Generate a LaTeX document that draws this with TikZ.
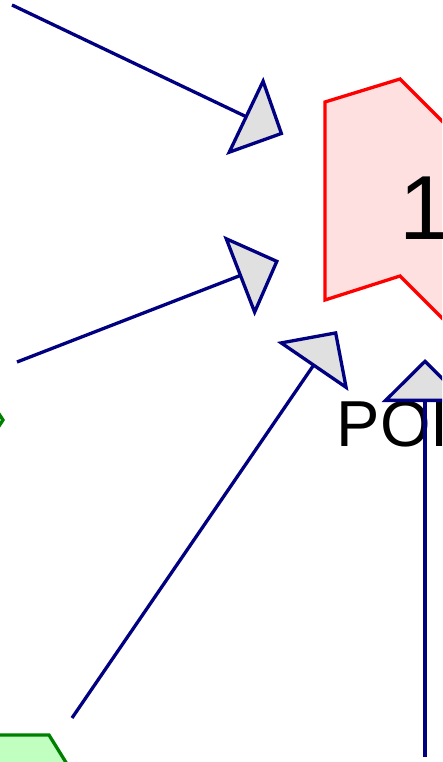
\documentclass[tikz,border=0pt]{standalone}
\usepackage{fontspec}
\setmainfont{Liberation Sans}
\usetikzlibrary{arrows.meta}
\definecolor{navyline}{HTML}{000080}
\definecolor{tipgray}{HTML}{E0E0E0}
\definecolor{redline}{HTML}{FF0000}
\definecolor{pinkfill}{HTML}{FFE0E0}
\definecolor{greenline}{HTML}{008000}
\definecolor{greenfill}{HTML}{C0FFC0}
\tikzset{
  conn/.style={draw=navyline, line width=3.3pt,
    -{Triangle[length=43pt,width=86pt,fill=tipgray,line join=miter]}},
  redshape/.style={draw=redline, fill=pinkfill, line width=3.3pt, line join=miter},
  greenshape/.style={draw=greenline, fill=greenfill, line width=3.3pt, line join=miter},
  bigtext/.style={inner sep=0pt, anchor=base west, text=black}
}
\begin{document}
\begin{tikzpicture}[x=1pt,y=-1pt]
\useasboundingbox (0,0) rectangle (442,762);
\clip (0,0) rectangle (442,762);
% shapes
\draw[redshape] (325,102) -- (400,79) -- (470,149) -- (470,346) -- (400,276) -- (325,300) -- cycle;
\draw[greenshape] (-20,735) -- (49,735) -- (80,785) -- (-20,785) -- cycle;
\draw[greenshape] (-14,394) -- (3,420) -- (-14,446) -- (-30,420) -- cycle;
% texts
\node[bigtext, font=\fontsize{91}{91}\selectfont] (one) at (399,239) {1};
\node[bigtext, font=\fontsize{65}{65}\selectfont] (poi) at (336.7,446.5) {POI};
% connector ends
\coordinate (s1) at (12,5);
\coordinate (t1) at (283.5,134.5);
\coordinate (s2) at (17,362);
\coordinate (t2) at (279,260.5);
\coordinate (s3) at (72,718);
\coordinate (t3) at (337,331);
\coordinate (s4) at (425,757);
\coordinate (t4) at (425,359);
\draw[conn] (s1) -- (t1);
\draw[conn] (s2) -- (t2);
\draw[conn] (s3) -- (t3);
\draw[conn] (s4) -- (t4);
\end{tikzpicture}
\end{document}
